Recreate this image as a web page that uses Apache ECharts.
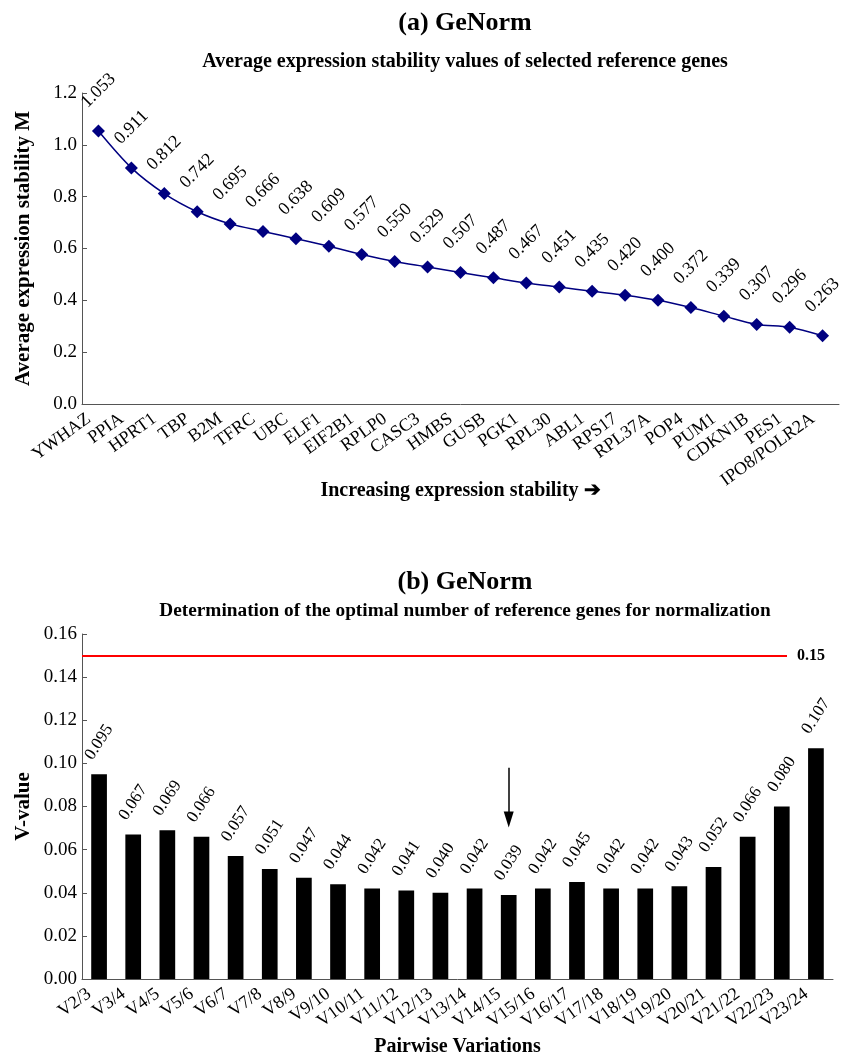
<!DOCTYPE html>
<html><head><meta charset="utf-8">
<script src="https://cdn.jsdelivr.net/npm/echarts@6/dist/echarts.min.js"></script>
<style>html,body{margin:0;padding:0;background:#fff}#c{width:842px;height:1058px}</style>
</head><body><div id="c"></div>
<script>
const genes = ['YWHAZ','PPIA','HPRT1','TBP','B2M','TFRC','UBC','ELF1','EIF2B1','RPLP0','CASC3','HMBS','GUSB','PGK1','RPL30','ABL1','RPS17','RPL37A','POP4','PUM1','CDKN1B','PES1','IPO8/POLR2A'];
const stability = [1.053,0.911,0.812,0.742,0.695,0.666,0.638,0.609,0.577,0.550,0.529,0.507,0.487,0.467,0.451,0.435,0.420,0.400,0.372,0.339,0.307,0.296,0.263];
const pairs = ['V2/3','V3/4','V4/5','V5/6','V6/7','V7/8','V8/9','V9/10','V10/11','V11/12','V12/13','V13/14','V14/15','V15/16','V16/17','V17/18','V18/19','V19/20','V20/21','V21/22','V22/23','V23/24'];
const vValues = [0.095,0.067,0.069,0.066,0.057,0.051,0.047,0.044,0.042,0.041,0.040,0.042,0.039,0.042,0.045,0.042,0.042,0.043,0.052,0.066,0.080,0.107];
const threshold = 0.15;
const arrowPair = 'V14/15';
const arrowFrom = 0.098, arrowTo = 0.074;

const F = 'Liberation Serif, Times New Roman, serif';
const axisCol = '#555';
const chart = echarts.init(document.getElementById('c'), null, {renderer:'canvas'});
function xAx(idx, data, name, gap){
  return {type:'category', gridIndex:idx, data:data, boundaryGap:true,
    axisLine:{lineStyle:{color:axisCol,width:1}},
    axisTick:{inside:true,length:5,lineStyle:{color:axisCol}},
    axisLabel:{rotate:36,interval:0,fontSize:18,color:'#000',fontFamily:F,margin:6,padding:[0,12,0,0]},
    name:name,nameLocation:'middle',nameGap:gap,nameMoveOverlap:false,
    nameTextStyle:{fontWeight:'bold',fontSize:20,color:'#000',fontFamily:F}};
}
function yAx(idx, max, iv, dec, name, gap){
  return {type:'value', gridIndex:idx, min:0, max:max, interval:iv,
    axisLine:{show:true,lineStyle:{color:axisCol,width:1}},
    axisTick:{show:true,inside:true,length:5,lineStyle:{color:axisCol}},
    splitLine:{show:false},
    axisLabel:{fontSize:19,color:'#000',fontFamily:F,margin:5,formatter:v=>v.toFixed(dec)},
    name:name,nameLocation:'middle',nameGap:gap,nameRotate:90,nameMoveOverlap:false,
    nameTextStyle:{fontWeight:'bold',fontSize:21,color:'#000',fontFamily:F}};
}
chart.setOption({
  animation:false,
  backgroundColor:'#fff',
  title:[
    {text:'(a) GeNorm',left:460,top:5,textAlign:'center',textStyle:{fontFamily:F,fontWeight:'bold',fontSize:26,color:'#000'}},
    {text:'Average expression stability values of selected reference genes',left:460,top:47,textAlign:'center',textStyle:{fontFamily:F,fontWeight:'bold',fontSize:20,color:'#000'}},
    {text:'(b) GeNorm',left:460,top:564,textAlign:'center',textStyle:{fontFamily:F,fontWeight:'bold',fontSize:26,color:'#000'}},
    {text:'Determination of the optimal number of reference genes for normalization',left:460,top:597,textAlign:'center',textStyle:{fontFamily:F,fontWeight:'bold',fontSize:19.3,color:'#000'}}
  ],
  grid:[
    {left:82,top:93,width:757,height:311},
    {left:82,top:634,width:751,height:346}
  ],
  xAxis:[xAx(0,genes,'Increasing expression stability \u2794',77), xAx(1,pairs,'Pairwise Variations',58)],
  yAxis:[yAx(0,1.2,0.2,1,'Average expression stability M',48), yAx(1,0.16,0.02,2,'V-value',48)],
  series:[
    {type:'line',xAxisIndex:0,yAxisIndex:0,data:stability,smooth:0.3,
      symbol:'diamond',symbolSize:13,
      itemStyle:{color:'#000080'},lineStyle:{color:'#000080',width:1.5},
      label:{show:true,position:'top',distance:34,rotate:45,align:'center',verticalAlign:'middle',
        fontSize:18,color:'#000',fontFamily:F,formatter:p=>p.value.toFixed(3)}},
    {type:'bar',xAxisIndex:1,yAxisIndex:1,data:vValues,barWidth:'46%',
      itemStyle:{color:'#000'},
      label:{show:true,position:'top',distance:32,rotate:57,align:'center',verticalAlign:'middle',
        fontSize:17,color:'#000',fontFamily:F,formatter:p=>p.value.toFixed(3)},
      markLine:{silent:true,symbol:'none',animation:false,
        data:[
          [{x:82,yAxis:threshold,lineStyle:{color:'#ff0000',width:2,type:'solid'},
            label:{show:true,position:'end',distance:10,formatter:threshold.toFixed(2),fontFamily:F,fontWeight:'bold',fontSize:16,color:'#000'}},
           {x:787,yAxis:threshold}],
          [{coord:[arrowPair,arrowFrom],symbol:'none',lineStyle:{color:'#000',width:1.5,type:'solid'},label:{show:false}},
           {coord:[arrowPair,arrowTo],symbol:'triangle',symbolSize:[10,16]}]
        ]}}
  ]
});
</script></body></html>
